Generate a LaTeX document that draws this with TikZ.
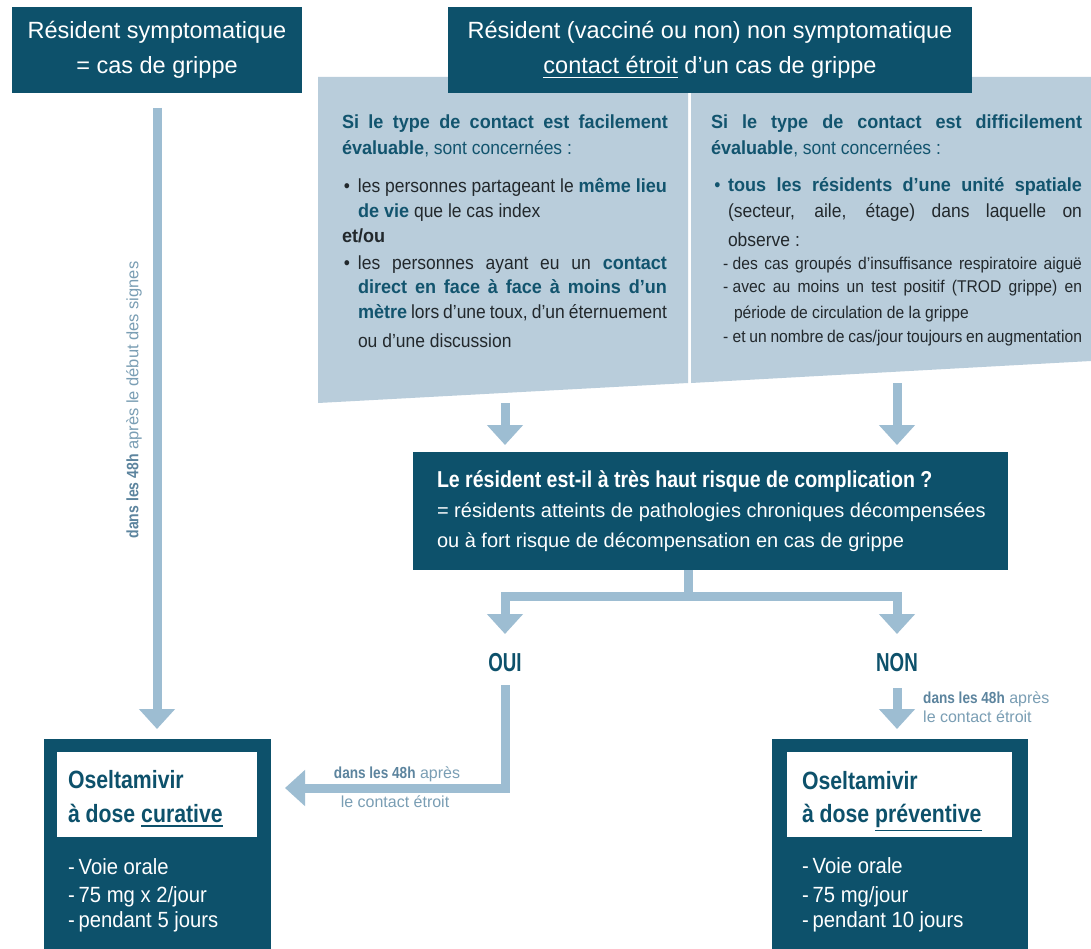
\documentclass[tikz,border=0pt]{standalone}
\usepackage{fontspec}
\setmainfont{Liberation Sans}[BoldFeatures={FakeStretch=0.85}]
\newfontfamily\pfont{Liberation Sans}[UprightFeatures={FakeStretch=0.92}, BoldFeatures={FakeStretch=0.95}]
\newfontfamily\nfont{Liberation Sans}[BoldFeatures={FakeStretch=0.72}]
\usetikzlibrary{arrows.meta}
\definecolor{dteal}{RGB}{13,81,107}
\definecolor{panelc}{RGB}{185,205,219}
\definecolor{arrc}{RGB}{157,189,210}
\definecolor{labd}{RGB}{92,132,158}
\definecolor{labl}{RGB}{122,158,180}
\definecolor{txtd}{RGB}{34,40,44}
\definecolor{txtt}{RGB}{18,84,110}
\newcommand\myul[1]{\setbox0\hbox{#1}\rlap{\rule[\dimexpr-\dp0-4.3pt\relax]{\wd0}{1.3pt}}\box0\relax}
\newcommand\bt[1]{{\bfseries\color{txtt}#1}}
\newcommand\lb[1]{{\bfseries\color{labd}#1}}
\newcommand\js[2]{\makebox[#1][s]{#2}}
\tikzset{
  darkbox/.style={fill=dteal, inner sep=0pt, outer sep=0pt},
  hdr/.style={text=white, align=center, font=\fontsize{23.5}{35}\selectfont},
  tl/.style={anchor=base west, inner sep=0pt, outer sep=0pt},
  ptxt/.style={tl, text=txtd, font=\pfont\fontsize{19}{22}\selectfont},
  stxt/.style={tl, text=txtd, font=\pfont\fontsize{17}{20}\selectfont},
  ctxt/.style={tl, text=white, font=\fontsize{20}{24}\selectfont},
  ttl/.style={tl, text=dteal, font=\bfseries\fontsize{25}{30}\selectfont},
  lst/.style={tl, text=white, font=\pfont\fontsize{22}{25}\selectfont},
  yn/.style={text=dteal, font=\nfont\bfseries\fontsize{26}{30}\selectfont, inner sep=0pt},
  lab/.style={text=labl, font=\fontsize{16}{20}\selectfont, inner sep=0pt},
  arr/.style={draw=arrc, line width=9pt, line join=miter, -{Triangle[width=35pt,length=20pt]}},
}
\begin{document}
\begin{tikzpicture}[x=1pt,y=-1pt]
\useasboundingbox (0,0) rectangle (1091,949);
\fill[white] (0,0) rectangle (1091,949);
% panels
\fill[panelc] (318,77) -- (688,77) -- (688,383) -- (318,403) -- cycle;
\fill[panelc] (691,77) -- (1091,77) -- (1091,361) -- (691,383) -- cycle;
% headers
\node[darkbox, minimum width=290pt, minimum height=86pt, hdr] (A) at (157,50) {Résident symptomatique\\= cas de grippe};
\node[darkbox, minimum width=524pt, minimum height=86pt, hdr] (B) at (710,50) {Résident (vacciné ou non) non symptomatique\\\myul{contact étroit} d’un cas de grippe};
% left panel
\node[ptxt] (l1) at (342,129) {\js{326pt}{\bt{Si le type de contact est facilement}}};
\node[ptxt, text=txtt] (l2) at (342,155) {\textbf{évaluable}, sont concernées :};
\node[ptxt] (l3) at (358,193) {\llap{•\hspace{8pt}}\js{309pt}{les personnes partageant le \bt{même lieu}}};
\node[ptxt] (l4) at (358,218) {\bt{de vie} que le cas index};
\node[ptxt] (l5) at (342,243) {\textbf{et/ou}};
\node[ptxt] (l6) at (358,270) {\llap{•\hspace{8pt}}\js{309pt}{les personnes ayant eu un \bt{contact}}};
\node[ptxt] (l7) at (358,294) {\js{309pt}{\bt{direct en face à face à moins d’un}}};
\node[ptxt] (l8) at (358,319) {\js{309pt}{\bt{mètre} lors d’une toux, d’un éternuement}};
\node[ptxt] (l9) at (358,347) {ou d’une discussion};
% right panel
\node[ptxt] (r1) at (711,129) {\js{371pt}{\bt{Si le type de contact est difficilement}}};
\node[ptxt, text=txtt] (r2) at (711,155) {\textbf{évaluable}, sont concernées :};
\node[ptxt] (r3) at (728,192) {\llap{\color{txtt}•\hspace{7.5pt}}\js{354pt}{\bt{tous les résidents d’une unité spatiale}}};
\node[ptxt] (r4) at (728,218) {\js{354pt}{(secteur, aile, étage) dans laquelle on}};
\node[ptxt] (r5) at (728,247) {observe :};
\node[stxt] (r6) at (723,270) {\js{359pt}{-\hspace{4.5pt}des cas groupés d’insuffisance respiratoire aiguë}};
\node[stxt] (r7) at (723,293) {\js{359pt}{-\hspace{4.5pt}avec au moins un test positif (TROD grippe) en}};
\node[stxt] (r8) at (734,318) {période de circulation de la grippe};
\node[stxt] (r9) at (723,342) {\js{359pt}{-\hspace{4.5pt}et un nombre de cas/jour toujours en augmentation}};
% question box
\node[darkbox, minimum width=595pt, minimum height=118pt] (C) at (710.5,511) {};
\node[ctxt, font=\bfseries\fontsize{23}{24}\selectfont] (c1) at (437,487) {Le résident est-il à très haut risque de complication ?};
\node[ctxt] (c2) at (437,517) {= résidents atteints de pathologies chroniques décompensées};
\node[ctxt] (c3) at (437,547) {ou à fort risque de décompensation en cas de grippe};
% arrows from panels
\coordinate (pl) at (505,403); \coordinate (plt) at (505,445);
\coordinate (pr) at (897,383); \coordinate (prt) at (897,445);
\draw[arr] (pl) -- (plt);
\draw[arr] (pr) -- (prt);
% branch
\coordinate (br) at (688,596);
\coordinate (oy) at (505,634);
\coordinate (ny) at (897,634);
\draw[arr] (C.south -| br) |- (oy |- br) -- (oy);
\draw[arr] (C.south -| br) |- (ny |- br) -- (ny);
\node[yn] (oui) at (505,663) {OUI};
\node[yn] (non) at (897,663) {NON};
% result boxes
\node[darkbox, anchor=north west, minimum width=227pt, minimum height=210pt] (D) at (43.5,739) {};
\node[fill=white, anchor=north west, minimum width=200pt, minimum height=85pt, inner sep=0pt] (Dw) at (57,752) {};
\node[ttl] (d1) at (68,788) {Oseltamivir};
\node[ttl] (d2) at (68,822) {à dose \myul{curative}};
\node[lst] (d3) at (68,874) {-\hspace{4pt}Voie orale};
\node[lst] (d4) at (68,902) {-\hspace{4pt}75 mg x 2/jour};
\node[lst] (d5) at (68,927) {-\hspace{4pt}pendant 5 jours};
\node[darkbox, anchor=north west, minimum width=256pt, minimum height=210pt] (E) at (772,739) {};
\node[fill=white, anchor=north west, minimum width=225pt, minimum height=85pt, inner sep=0pt] (Ew) at (787,752) {};
\node[ttl] (e1) at (802,789) {Oseltamivir};
\node[ttl] (e2) at (802,822) {à dose \myul{préventive}};
\node[lst] (e3) at (802,873) {-\hspace{4pt}Voie orale};
\node[lst] (e4) at (802,902) {-\hspace{4pt}75 mg/jour};
\node[lst] (e5) at (802,927) {-\hspace{4pt}pendant 10 jours};
% arrows to results
\draw[arr] ([yshift=-15pt]A.south) -- ([yshift=10pt]D.north);
\coordinate (o1) at (505,685); \coordinate (o2) at (285,788);
\draw[arr] (o1) |- (o2);
\coordinate (n1) at (897,688); \coordinate (n2) at (897,729);
\draw[arr] (n1) -- (n2);
% labels
\node[lab, anchor=base] (lb1) at (397,778) {\lb{dans les 48h} après};
\node[lab, anchor=base] (lb2) at (395,807) {le contact étroit};
\node[lab, anchor=base west] (lb3) at (923,703) {\lb{dans les 48h} après};
\node[lab, anchor=base west] (lb4) at (923,722) {le contact étroit};
\node[lab, rotate=90, font=\fontsize{16.5}{20}\selectfont] (lb5) at (134,400) {\lb{dans les 48h} après le début des signes};
\end{tikzpicture}
\end{document}
